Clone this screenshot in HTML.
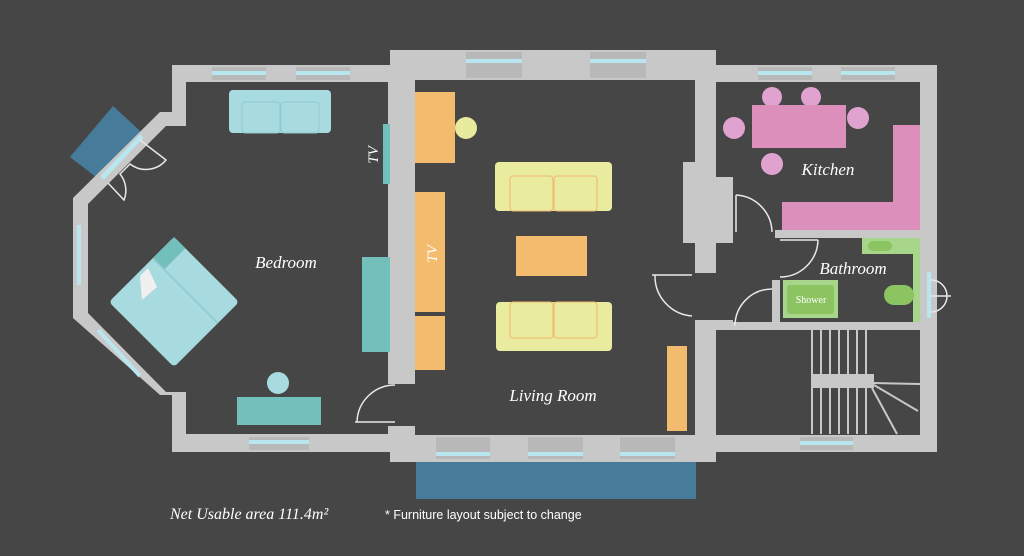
<!DOCTYPE html>
<html><head><meta charset="utf-8"><style>
html,body{margin:0;padding:0;background:#464646;}
svg{display:block;}
.lbl{font-family:"Liberation Serif",serif;font-style:italic;fill:#fff;}
</style></head><body>
<svg width="1024" height="556" viewBox="0 0 1024 556" xmlns="http://www.w3.org/2000/svg">
<rect width="1024" height="556" fill="#464646"/>
<polygon points="70,157 113,106 150,140 105,184" fill="#467b9a"/>
<g fill="#c8c8c8">
<polygon points="172,65 390,65 390,50 716,50 716,65 937,65 937,452 716,452 716,462 390,462 390,452 172,452 172,395 160,395 73,318 73,198 160,112 172,112"/>
</g>
<g fill="#464646">
<polygon points="186,82 388,82 388,434 186,434 186,392 166,392 88,313 88,204 166,126 186,126"/>
<rect x="415" y="80" width="280" height="355"/>
<rect x="716" y="82" width="204" height="353"/>
<rect x="385" y="384" width="35" height="42"/>
<rect x="690" y="273" width="30" height="47"/>
</g>
<g fill="#c8c8c8">
<rect x="388" y="108" width="12" height="276"/>
<rect x="683" y="177" width="50" height="66"/>
<rect x="683" y="162" width="14" height="16"/>
<rect x="775" y="230" width="145" height="8"/>
<rect x="733" y="322" width="204" height="8"/>
<rect x="695" y="320" width="38" height="10"/>
<rect x="772" y="280" width="8" height="50"/>
</g>
<g fill="#b8b8b8">
<rect x="466" y="52" width="56" height="26"/><rect x="590" y="52" width="56" height="26"/>
<rect x="436" y="437" width="54" height="22"/><rect x="528" y="437" width="55" height="22"/><rect x="620" y="437" width="55" height="22"/>
<rect x="212" y="67" width="54" height="13"/><rect x="296" y="67" width="54" height="13"/>
<rect x="758" y="67" width="54" height="13"/><rect x="841" y="67" width="54" height="13"/>
<rect x="249" y="437" width="60" height="13"/><rect x="800" y="437" width="53" height="13"/>
</g>
<g fill="#b8e6ee">
<rect x="212" y="71" width="54" height="4"/><rect x="296" y="71" width="54" height="4"/>
<rect x="466" y="59" width="56" height="4"/><rect x="590" y="59" width="56" height="4"/>
<rect x="758" y="71" width="54" height="4"/><rect x="841" y="71" width="54" height="4"/>
<rect x="249" y="440" width="60" height="4"/>
<rect x="436" y="452" width="54" height="4"/><rect x="528" y="452" width="55" height="4"/><rect x="620" y="452" width="55" height="4"/>
<rect x="800" y="441" width="53" height="4"/>
<rect x="77" y="225" width="4" height="60"/>
<rect x="927" y="272" width="4" height="46"/>
</g>
<line x1="98" y1="330" x2="140" y2="376" stroke="#b8e6ee" stroke-width="4"/>
<line x1="102" y1="178" x2="142" y2="136" stroke="#b8e6ee" stroke-width="5"/>
<rect x="416" y="462" width="280" height="37" fill="#467b9a"/>
<g fill="none" stroke="#e8e8e8" stroke-width="1.5">
<path d="M355,422 L395,422 M395,385 A38,38 0 0 0 357,422"/>
<path d="M652,275 L692,275 M655,275 A40,40 0 0 0 692,316"/>
<path d="M736,195 L736,232 M736,195 A38,38 0 0 1 772,232"/>
<path d="M780,240 L818,240 M818,240 A38,38 0 0 1 780,277"/>
<path d="M735,325 L735,322 M772,289 A37,37 0 0 0 735,326"/>
<path d="M931,280 A16,16 0 0 1 931,312 M931,296 L951,296"/>
<path d="M140,140 L166,160 A26,26 0 0 1 130,164 L120,174 A26,26 0 0 1 124,200 L108,183"/>
</g>
<rect x="229" y="90" width="102" height="43" rx="4" fill="#a8dbe0"/>
<g fill="none" stroke="#8fcad0" stroke-width="1"><rect x="242" y="102" width="38" height="31" rx="3"/><rect x="281" y="102" width="38" height="31" rx="3"/></g>
<rect x="383" y="124" width="7" height="60" fill="#72bfbc"/>
<text class="lbl" x="0" y="0" font-size="15" transform="translate(378,155) rotate(-90)" text-anchor="middle">TV</text>
<rect x="362" y="257" width="28" height="95" fill="#72bfbc"/>
<circle cx="278" cy="383" r="11" fill="#a8dbe0"/>
<rect x="237" y="397" width="84" height="28" fill="#72bfbc"/>
<g transform="translate(174,302) rotate(45)">
<rect x="-46" y="-46" width="92" height="92" rx="4" fill="#a8dbe0"/>
<rect x="-46" y="-46" width="16" height="30" fill="#72bfbc"/>
<line x1="-46" y1="-16" x2="46" y2="-16" stroke="#8fcad0" stroke-width="1.5"/>
</g>
<polygon points="140,276 148,268 157,287 142,300" fill="#f0f0f0"/>
<text class="lbl" x="286" y="268" font-size="17" text-anchor="middle">Bedroom</text>
<rect x="415" y="92" width="40" height="71" fill="#f2bb6d"/>
<circle cx="466" cy="128" r="11" fill="#e8eb9d"/>
<rect x="415" y="192" width="30" height="120" fill="#f2bb6d"/>
<rect x="415" y="316" width="30" height="54" fill="#f2bb6d"/>
<text class="lbl" x="0" y="0" font-size="15" transform="translate(437,254) rotate(-90)" text-anchor="middle">TV</text>
<rect x="495" y="162" width="117" height="49" rx="4" fill="#e9ec9e"/>
<g fill="none" stroke="#f0b870" stroke-width="1"><rect x="510" y="176" width="43" height="35" rx="3"/><rect x="554" y="176" width="43" height="35" rx="3"/></g>
<rect x="516" y="236" width="71" height="40" fill="#f2bb6d"/>
<rect x="496" y="302" width="116" height="49" rx="4" fill="#e9ec9e"/>
<g fill="none" stroke="#f0b870" stroke-width="1"><rect x="510" y="302" width="43" height="36" rx="3"/><rect x="554" y="302" width="43" height="36" rx="3"/></g>
<rect x="667" y="346" width="20" height="85" fill="#f2bb6d"/>
<text class="lbl" x="553" y="401" font-size="17" text-anchor="middle">Living Room</text>
<g fill="#e0a3cf"><circle cx="772" cy="97" r="10"/><circle cx="811" cy="97" r="10"/><circle cx="734" cy="128" r="11"/><circle cx="858" cy="118" r="11"/><circle cx="772" cy="164" r="11"/></g>
<rect x="752" y="105" width="94" height="43" fill="#dc8fbb"/>
<polygon points="893,125 920,125 920,230 782,230 782,202 893,202" fill="#dc8fbb"/>
<text class="lbl" x="828" y="175" font-size="17" text-anchor="middle">Kitchen</text>
<rect x="862" y="238" width="56" height="16" fill="#a7d68a"/>
<rect x="868" y="241" width="24" height="10" rx="5" fill="#8cc461"/>
<rect x="913" y="238" width="7" height="84" fill="#a7d68a"/>
<rect x="884" y="285" width="30" height="20" rx="10" fill="#8cc461"/>
<rect x="783" y="280" width="55" height="38" fill="#a7d68a"/>
<rect x="787" y="285" width="47" height="29" rx="3" fill="#8cc461"/>
<text x="811" y="303" font-family="Liberation Serif,serif" font-size="10" fill="#fff" text-anchor="middle">Shower</text>
<text class="lbl" x="853" y="274" font-size="17" text-anchor="middle">Bathroom</text>
<g stroke="#c8c8c8" stroke-width="2">
<line x1="812" y1="330" x2="812" y2="434"/><line x1="821" y1="330" x2="821" y2="434"/><line x1="830" y1="330" x2="830" y2="434"/><line x1="839" y1="330" x2="839" y2="434"/><line x1="848" y1="330" x2="848" y2="434"/><line x1="857" y1="330" x2="857" y2="434"/><line x1="866" y1="330" x2="866" y2="434"/>
<line x1="874" y1="383" x2="920" y2="384"/><line x1="874" y1="385" x2="918" y2="411"/><line x1="872" y1="388" x2="897" y2="434"/>
</g>
<rect x="811" y="374" width="63" height="14" fill="#c8c8c8"/>
<text class="lbl" x="170" y="519" font-size="16">Net Usable area 111.4m²</text>
<text x="385" y="519" font-family="Liberation Sans,sans-serif" font-size="12.5" fill="#fff">* Furniture layout subject to change</text>
</svg>
</body></html>
